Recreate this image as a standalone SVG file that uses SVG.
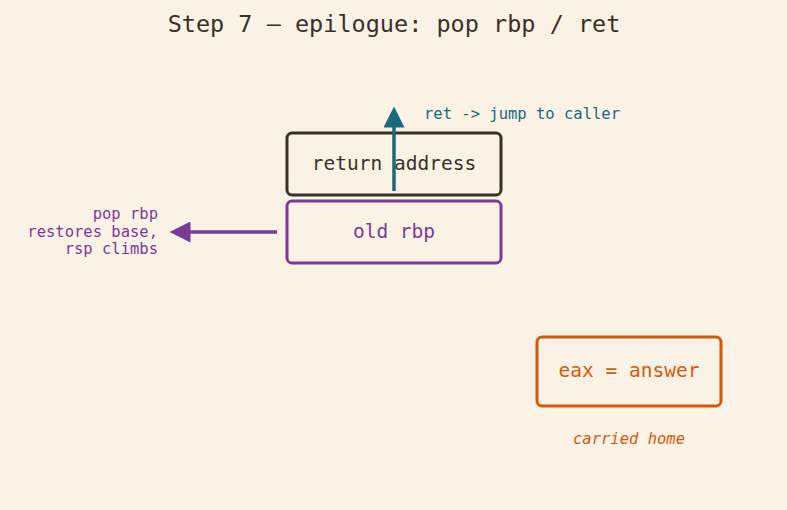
<svg xmlns="http://www.w3.org/2000/svg" width="787" height="510" viewBox="0 0 787 510">
<style>
text{font-family:"DejaVu Sans Mono",monospace;}
.box{fill:none;stroke-width:3;}
.t{font-size:19.5px;text-anchor:middle;}
.s{font-size:15.5px;}
</style>
<defs>
<marker id="ahT" markerWidth="6" markerHeight="6" refX="3" refY="3" orient="auto" markerUnits="strokeWidth"><path d="M0,0 L6,3 L0,6 z" fill="#176b7a"/></marker>
<marker id="ahP" markerWidth="6" markerHeight="6" refX="3" refY="3" orient="auto" markerUnits="strokeWidth"><path d="M0,0 L6,3 L0,6 z" fill="#7a3b98"/></marker>
</defs>
<rect width="787" height="510" fill="#faf2e5"/>
<text x="394" y="32" font-size="23.5" text-anchor="middle" fill="#3a302a">Step 7 — epilogue: pop rbp / ret</text>
<g id="return-address">
<rect class="box" x="287" y="133" width="214" height="62" rx="5" stroke="#3a302a"/>
<text class="t" x="394" y="170" fill="#3a302a">return address</text>
</g>
<g id="old-rbp">
<rect class="box" x="287" y="201" width="214" height="62" rx="5" stroke="#7a3b98"/>
<text class="t" x="394" y="238" fill="#7a3b98">old rbp</text>
</g>
<g id="eax">
<rect class="box" x="537" y="337" width="184" height="69" rx="5" stroke="#d35a0a"/>
<text class="t" x="629" y="377" fill="#d35a0a">eax = answer</text>
<text class="s" x="629" y="444" text-anchor="middle" font-style="italic" fill="#d35a0a">carried home</text>
</g>
<g id="connectors">
<line x1="394" y1="191" x2="394" y2="117" stroke="#176b7a" stroke-width="3.5" marker-end="url(#ahT)"/>
<text class="s" x="424" y="119" fill="#176b7a">ret -&gt; jump to caller</text>
<line x1="277" y1="232" x2="180" y2="232" stroke="#7a3b98" stroke-width="3.5" marker-end="url(#ahP)"/>
<text class="s" text-anchor="end" fill="#7a3b98"><tspan x="158" y="219">pop rbp</tspan><tspan x="158" y="237">restores base,</tspan><tspan x="158" y="254">rsp climbs</tspan></text>
</g>
</svg>
